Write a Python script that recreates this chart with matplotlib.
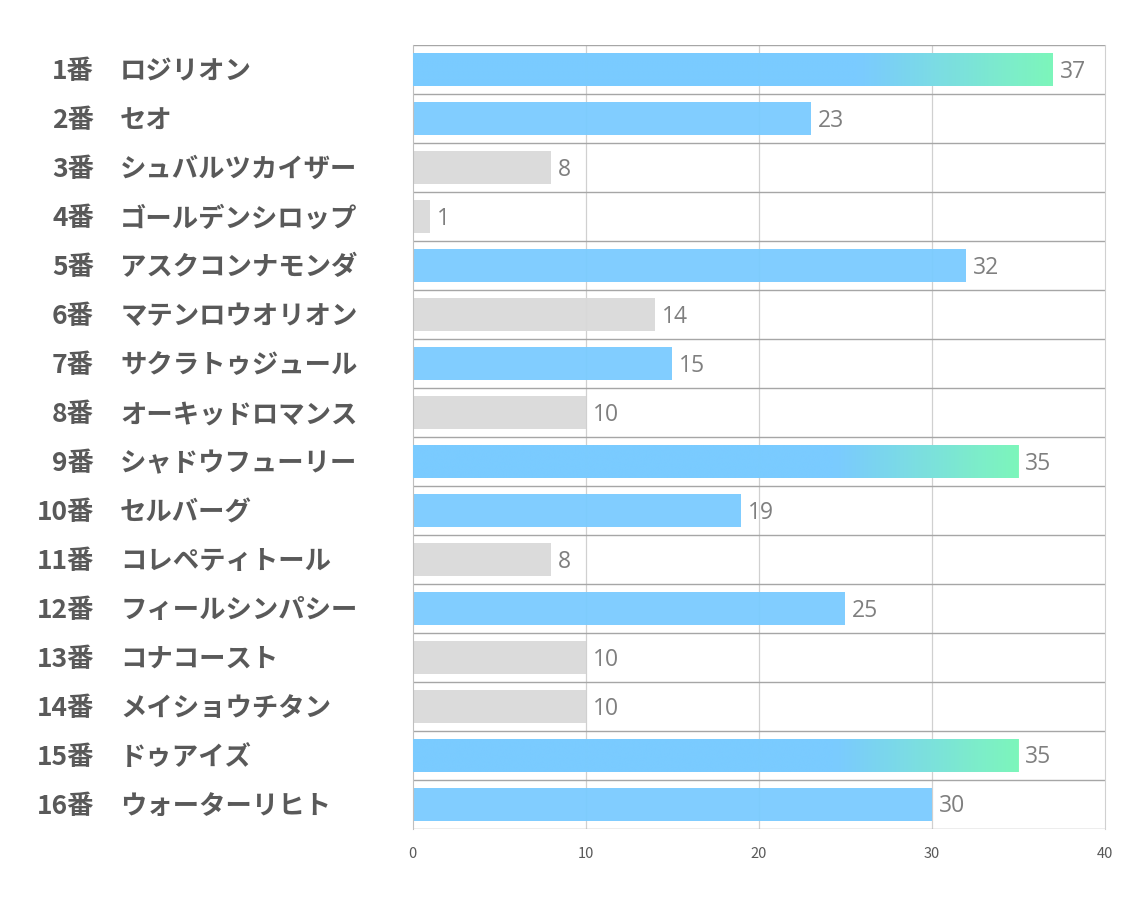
import numpy as np
import matplotlib.pyplot as plt
from matplotlib.colors import LinearSegmentedColormap
from matplotlib.transforms import blended_transform_factory

plt.rcParams['font.family'] = ['Noto Sans CJK JP', 'DejaVu Sans']

# データ
numbers = ['1番', '2番', '3番', '4番', '5番', '6番', '7番', '8番',
           '9番', '10番', '11番', '12番', '13番', '14番', '15番', '16番']
names = ['ロジリオン', 'セオ', 'シュバルツカイザー', 'ゴールデンシロップ', 'アスクコンナモンダ',
         'マテンロウオリオン', 'サクラトゥジュール', 'オーキッドロマンス', 'シャドウフューリー',
         'セルバーグ', 'コレペティトール', 'フィールシンパシー', 'コナコースト', 'メイショウチタン',
         'ドゥアイズ', 'ウォーターリヒト']
values = [37, 23, 8, 1, 32, 14, 15, 10, 35, 19, 8, 25, 10, 10, 35, 30]
kinds = ['grad', 'blue', 'gray', 'gray', 'blue', 'gray', 'blue', 'gray',
         'grad', 'blue', 'gray', 'blue', 'gray', 'gray', 'grad', 'blue']

blue = '#7acbff'
green = '#7df9b8'
gray = '#d9d9d9'
colors = {'blue': blue, 'gray': gray, 'grad': blue}

fig = plt.figure(figsize=(11.34, 9.07), dpi=100)
ax = fig.add_axes([0.364, 0.086, 0.61, 0.864])

n = len(values)
y = np.arange(n)
bh = 0.67

bars = ax.barh(y, values, height=bh, color=[colors[k] for k in kinds], alpha=0.95, zorder=2)

# グラデーション（右端 30% ほど）
cmap = LinearSegmentedColormap.from_list('bg', [(0, blue), (0.7, blue), (1, green)])
grad = np.linspace(0, 1, 256).reshape(1, -1)
for b, k in zip(bars, kinds):
    if k == 'grad':
        w = b.get_width()
        y0 = b.get_y()
        im = ax.imshow(grad, cmap=cmap, aspect='auto', extent=(0, w, y0 + bh, y0),
                       zorder=3, alpha=0.95, interpolation='bicubic')
        im.set_clip_path(b)

# 値ラベル
for i, v in enumerate(values):
    ax.text(v + 0.4, i + 0.04, str(v), va='center', ha='left', fontsize=16.5, color='#7f7f7f',
            family=['Open Sans', 'DejaVu Sans'])

ax.set_xlim(0, 40)
ax.set_ylim(n - 0.5, -0.5)
ax.set_xticks([0, 10, 20, 30, 40])
ax.tick_params(axis='x', length=0, labelsize=10.5, colors='#595959', pad=13)
ax.set_yticks([])

# 縦のグリッド
for xv in [10, 20, 30]:
    ax.axvline(xv, color='#d0d0d0', lw=0.9, zorder=1)
# 行の区切り線
for yv in np.arange(-0.5, n, 1):
    ax.axhline(yv, color='#a6a6a6', lw=1.0, zorder=1)

for s in ['top', 'bottom']:
    ax.spines[s].set_visible(False)
ax.spines['left'].set_color('#bfbfbf')
ax.spines['right'].set_color('#d0d0d0')

# 馬番と馬名（図座標で x、データ座標で y）
lab_tr = blended_transform_factory(fig.transFigure, ax.transData)
for i in range(n):
    ax.text(0.083, i + 0.04, numbers[i], ha='right', va='center', fontsize=19,
            fontweight='bold', color='#595959', transform=lab_tr)
    ax.text(0.106, i + 0.04, names[i], ha='left', va='center', fontsize=19,
            fontweight='bold', color='#595959', transform=lab_tr)

fig.savefig('out.png', dpi=100, facecolor='white')
